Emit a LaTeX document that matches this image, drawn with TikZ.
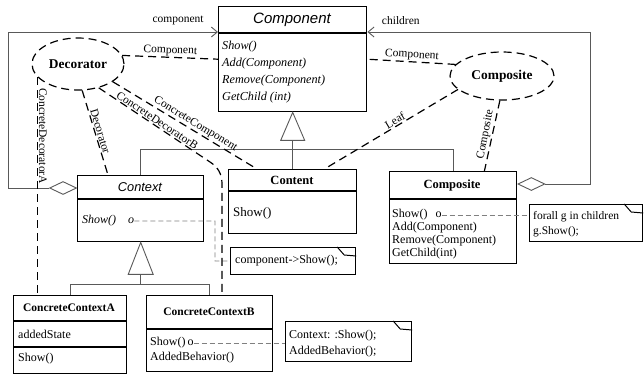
\documentclass[tikz,border=0pt]{standalone}
\usepackage{fontspec}
\setmainfont{Liberation Serif}
\setsansfont{Liberation Sans}
\usetikzlibrary{shapes.geometric,arrows.meta}

\tikzset{
  clsbox/.style={draw, line width=1.4pt, anchor=north west, inner sep=0pt},
  notebox/.style={draw, line width=1.2pt, anchor=north west, inner sep=0pt},
  rolenode/.style={ellipse, draw, line width=1.2pt, dash pattern=on 8pt off 5pt, inner sep=0pt, font=\bfseries\fontsize{13.4}{15}\selectfont},
  binding/.style={line width=1.2pt, dash pattern=on 8pt off 5pt},
  rolename/.style={font=\fontsize{11.5}{13}\selectfont, inner sep=1pt},
  gen/.style={draw=gray!70!black, line width=0.9pt},
  memolink/.style={draw=gray, line width=0.8pt, dash pattern=on 5pt off 3pt},
  aggr/.style={diamond, draw=gray!70!black, line width=0.9pt, fill=white, inner sep=0pt, minimum width=27pt, minimum height=13pt},
  navig/.style={-{Straight Barb[length=6pt,width=10pt]}},
  sanshead/.style={font=\sffamily\itshape\fontsize{15}{17}\selectfont},
  boldhead/.style={font=\bfseries\fontsize{12.5}{14}\selectfont},
  optext/.style={font=\fontsize{12}{13}\selectfont, inner sep=0pt, align=left},
}

\begin{document}
\begin{tikzpicture}[x=1pt,y=-1pt]
    \useasboundingbox (0,0) rectangle (644,376);
    % class boxes
    \path (218,  6) node [clsbox, minimum width=148pt, minimum height=105pt] (component) {};
    \path ( 77,175) node [clsbox, minimum width=126pt, minimum height=66pt] (context) {};
    \path (228,169) node [clsbox, minimum width=128pt, minimum height=64pt] (content) {};
    \path (389,171) node [clsbox, minimum width=127pt, minimum height=92pt] (composite) {};
    \path ( 13,295) node [clsbox, minimum width=113pt, minimum height=78pt] (cca) {};
    \path (146,295) node [clsbox, minimum width=126pt, minimum height=76pt] (ccb) {};
    \draw [line width=1.4pt] (component.west |- 0,33) -- (component.east |- 0,33);
    \draw [line width=1.4pt] (context.west |- 0,199) -- (context.east |- 0,199);
    \draw [line width=1.4pt] (content.west |- 0,191) -- (content.east |- 0,191);
    \draw [line width=1.4pt] (composite.west |- 0,199) -- (composite.east |- 0,199);
    \draw [line width=1.4pt] (cca.west |- 0,321) -- (cca.east |- 0,321);
    \draw [line width=1.4pt] (cca.west |- 0,347) -- (cca.east |- 0,347);
    \draw [line width=1.4pt] (ccb.west |- 0,329) -- (ccb.east |- 0,329);
    % class texts
    \path (292, 20) node [sanshead] (componenthd) {Component};
    \path (222, 72) node [optext, anchor=west, font=\itshape\fontsize{12.2}{17}\selectfont] (componentops)
        {Show()\\Add(Component)\\Remove(Component)\\GetChild (int)};
    \path (140,187) node [sanshead, font=\sffamily\itshape\fontsize{12.8}{14}\selectfont] (contexthd) {Context};
    \path ( 82,221) node [optext, anchor=west, font=\itshape\fontsize{12}{13}\selectfont] (contextshow) {Show()\hspace{12pt}o};
    \path (292,180) node [boldhead] (contenthd) {Content};
    \path (233,213) node [optext, anchor=west, font=\fontsize{13}{14}\selectfont] (contentshow) {Show()};
    \path (452,185) node [boldhead] (compositehd) {Composite};
    \path (392,215) node [optext, anchor=west] (compositeshow) {Show()\hspace{8pt}o};
    \path (392,241) node [optext, anchor=west] (compositeops) {Add(Component)\\Remove(Component)\\GetChild(int)};
    \path ( 69,308) node [boldhead, font=\bfseries\fontsize{11.5}{13}\selectfont] (ccahd) {ConcreteContextA};
    \path ( 18,334) node [optext, anchor=west] (ccastate) {addedState};
    \path ( 18,359) node [optext, anchor=west] (ccashow) {Show()};
    \path (209,312) node [boldhead, font=\bfseries\fontsize{11.5}{13}\selectfont] (ccbhd) {ConcreteContextB};
    \path (150,343) node [optext, anchor=west] (ccbshow) {Show()\,o};
    \path (150,358) node [optext, anchor=west] (ccbbehav) {AddedBehavior()};
    % notes
    \path (230,247) node [notebox, minimum width=125pt, minimum height=27pt] (note1) {};
    \path (285,321) node [notebox, minimum width=126pt, minimum height=40pt] (note2) {};
    \path (529,204) node [notebox, minimum width=113pt, minimum height=37pt] (note3) {};
    \foreach \n in {note1,note2,note3}
        \draw [line width=1pt] ([xshift=-19pt]\n.north east) -- ([xshift=-12pt,yshift=-8pt]\n.north east) -- ([yshift=-9pt]\n.north east);
    \path (235,261) node [optext, anchor=west] (note1txt) {component->Show();};
    \path (289,344) node [optext, anchor=west, font=\fontsize{12}{16}\selectfont] (note2txt) {Context: :Show();\\AddedBehavior();};
    \path (533,224) node [optext, anchor=west, font=\fontsize{11.5}{15}\selectfont] (note3txt) {forall g in children\\g.Show();};
    \coordinate (contextbend) at (215,261);
    \draw [memolink] (contextshow.east) -| (contextbend) -- (note1.west);
    \draw [memolink] (ccbshow.east) -- (note2.west |- ccbshow.east);
    \draw [memolink] (compositeshow.east) -- (note3.west |- compositeshow.east);
    % generalisation
    \draw [gen] (component.south) -- ++(-12,28) -- ++(24,0) -- cycle;
    \coordinate (componentbase) at ([yshift=-28pt]component.south);
    \coordinate (componentbus) at ([yshift=-37pt]component.south);
    \draw [gen] (componentbase) -- (content.north);
    \draw [gen] (context.north) |- (componentbus) -| (composite.north);
    \draw [gen] (context.south) -- ++(-12.5,32) -- ++(25,0) -- cycle;
    \coordinate (contextbase) at ([yshift=-32pt]context.south);
    \coordinate (contextbus) at ([yshift=-42pt]context.south);
    \draw [gen] (contextbase) -- (contextbus);
    \draw [gen] (cca.north) |- (contextbus) -| (ccb.north);
    % aggregation
    \path (context.west |- 0,188) node [aggr, anchor=east] (contextagg) {};
    \path (composite.east |- 0,184) node [aggr, anchor=west] (compositeagg) {};
    \coordinate (leftloop) at (8,32);
    \coordinate (rightloop) at (590,32);
    \draw [gen, navig] (contextagg.west) -| (leftloop) -- (component.west |- leftloop)
        node [rolename, pos=0.81, above=6pt] (componentlbl) {component};
    \draw [gen, navig] (compositeagg.east) -| (rightloop) -- (component.east |- rightloop)
        node [rolename, pos=0.85, above=6pt] (childrenlbl) {children};
    % roles
    \path ( 78, 64) node [rolenode, minimum width=92pt, minimum height=52pt] (decorator) {Decorator};
    \path (502, 76) node [rolenode, minimum width=104pt, minimum height=48pt] (compositerole) {Composite};
    \draw [binding] (decorator.11) -- (component.west) node [rolename, midway, above, sloped] {Component};
    \draw [binding] (decorator.-27) -- ([xshift=29pt]content.north west) node [rolename, pos=0.55, above, sloped] {ConcreteComponent};
    \coordinate (decbend) at (210,162);
    \coordinate (decdrop) at (222,184);
    \draw [binding] (decorator.-49) -- (decbend) node [rolename, midway, above, sloped] {ConcreteDecoratorB}
        .. controls +(8,5) and +(0,-10) .. (decdrop) -- (decdrop |- ccb.north);
    \draw [binding] (decorator.-81) -- ([xshift=31pt]context.north west) node [rolename, midway, above, sloped] {Decorator};
    \draw [binding] (decorator.198) -- (decorator.198 |- cca.north) node [rolename, pos=0.27, anchor=south, rotate=-90] {ConcreteDecoratorA};
    \draw [binding] (compositerole.166) -- (component.east) node [rolename, midway, above, sloped] {Component};
    \draw [binding] (compositerole.197) -- ([xshift=-33pt]content.north east) node [rolename, pos=0.45, above, sloped] {Leaf};
    \draw [binding] (compositerole.-95) -- ([xshift=-33pt]composite.north east) node [rolename, midway, anchor=south, rotate=79] {Composite};
\end{tikzpicture}
\end{document}
